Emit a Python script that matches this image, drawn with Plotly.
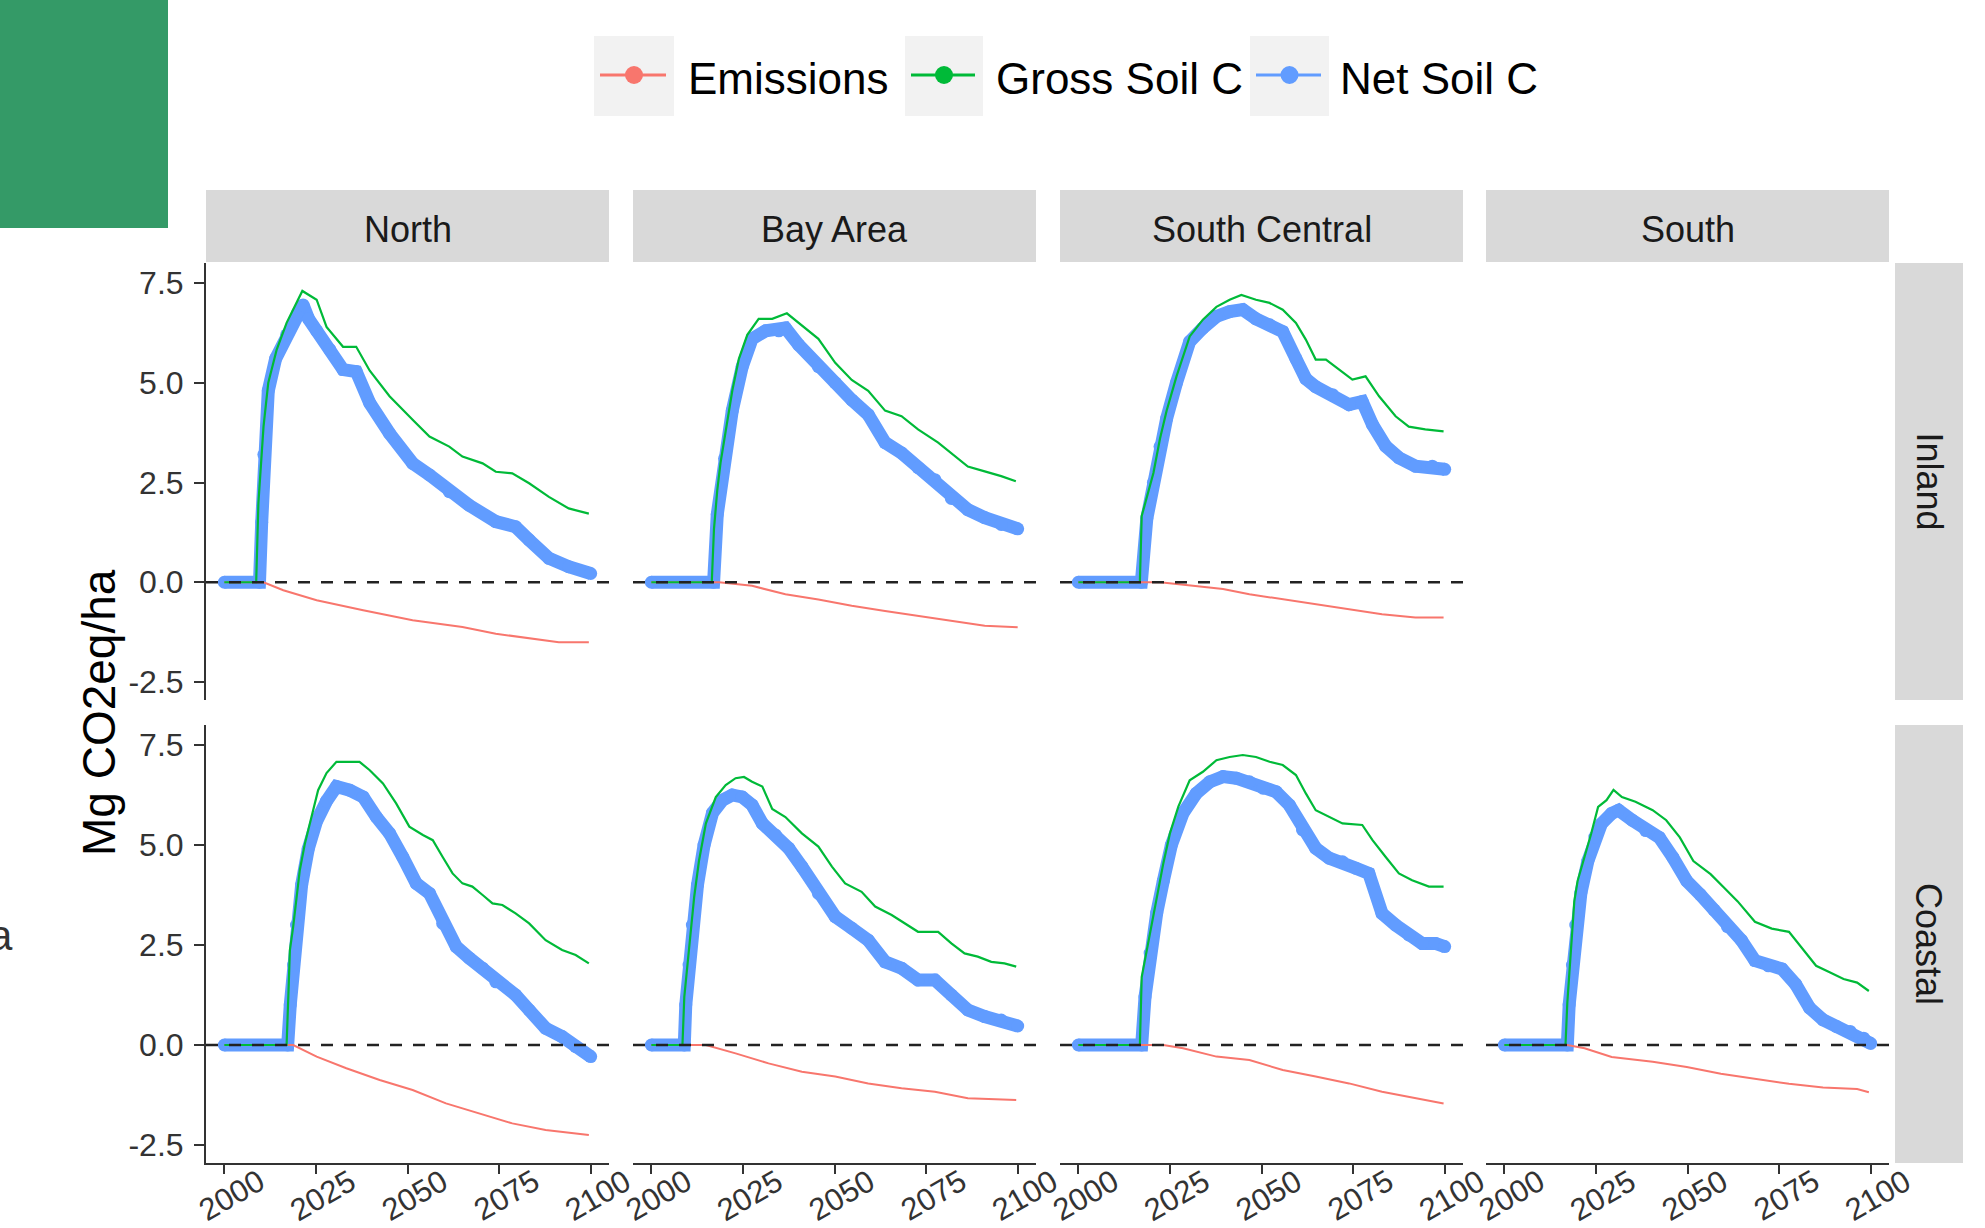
import plotly.graph_objects as go

# ---------------- data ----------------
YEAR_TICKS = [2000, 2025, 2050, 2075, 2100]
Y_TICKS = [-2.5, 0, 2.5, 5, 7.5]
Y_TICK_TEXT = ["-2.5", "0.0", "2.5", "5.0", "7.5"]
REGIONS = ["North", "Bay Area", "South Central", "South"]
ZONES = ["Inland", "Coastal"]
SERIES = ["Emissions", "Gross Soil C", "Net Soil C"]

# North / Inland
ni_emis_x = [2000, 2010.7, 2016.1, 2025.2, 2037.9, 2051.4, 2065.0, 2074.1, 2091.3, 2099.5]
ni_emis_y = [0, 0, -0.2, -0.45, -0.70, -0.95, -1.12, -1.29, -1.5, -1.5]
ni_gross_x = [2000, 2008.7, 2009.3, 2010.7, 2012.0, 2014.3, 2017.0, 2019.8, 2021.3, 2025.2, 2027.9,
              2032.4, 2036.0, 2039.7, 2045.1, 2051.4, 2056.0, 2061.4, 2065.0, 2070.5, 2074.1,
              2078.6, 2083.2, 2088.6, 2094.0, 2099.5]
ni_gross_y = [0, 0, 1.98, 3.9, 5.0, 5.83, 6.5, 7.0, 7.3, 7.08, 6.4, 5.9, 5.9, 5.3, 4.66, 4.07,
              3.65, 3.4, 3.15, 2.98, 2.77, 2.73, 2.48, 2.14, 1.85, 1.72]
ni_net_x = [2000, 2009.6, 2010.2, 2010.8, 2012.0, 2014.0, 2017.0, 2020.0, 2021.5, 2023.0, 2025.2,
            2028.8, 2032.4, 2036.0, 2039.7, 2045.1, 2051.4, 2056.0, 2061.4, 2066.8, 2074.1,
            2079.5, 2083.2, 2088.6, 2094.0, 2100]
ni_net_y = [0, 0, 1.5, 3.2, 4.8, 5.6, 6.2, 6.75, 6.95, 6.6, 6.3, 5.83, 5.33, 5.28, 4.49, 3.73,
            2.98, 2.69, 2.27, 1.93, 1.52, 1.39, 1.06, 0.6, 0.39, 0.22]

# Bay Area / Inland
bi_emis_x = [2000, 2018.5, 2027.5, 2036.6, 2045.6, 2054.7, 2063.8, 2072.8, 2081.9, 2091.0, 2100]
bi_emis_y = [0, 0, -0.09, -0.3, -0.43, -0.59, -0.72, -0.84, -0.97, -1.09, -1.13]
bi_gross_x = [2000, 2016.5, 2017.1, 2018.0, 2018.9, 2020.3, 2022.1, 2023.9, 2026.2, 2029.3, 2033.0,
              2037.0, 2040.2, 2045.6, 2050.2, 2054.7, 2059.2, 2063.8, 2068.3, 2072.8, 2078.3,
              2081.9, 2086.4, 2091.0, 2095.5, 2099.5]
bi_gross_y = [0, 0, 1.33, 2.3, 3.0, 3.8, 4.8, 5.6, 6.2, 6.6, 6.6, 6.74, 6.5, 6.1, 5.5, 5.07, 4.8,
              4.3, 4.16, 3.83, 3.5, 3.24, 2.9, 2.78, 2.66, 2.53]
bi_net_x = [2000, 2017.0, 2018.0, 2020.0, 2022.1, 2024.8, 2027.5, 2031.2, 2034.8, 2036.6, 2040.2,
            2045.6, 2050.2, 2054.7, 2059.2, 2063.8, 2068.3, 2072.8, 2077.4, 2081.9, 2086.4,
            2091.0, 2095.5, 2100]
bi_net_y = [0, 0, 1.7, 3.1, 4.3, 5.4, 6.1, 6.3, 6.3, 6.37, 5.95, 5.4, 5.0, 4.57, 4.2, 3.5, 3.24,
            2.87, 2.57, 2.1, 1.82, 1.62, 1.45, 1.34]

# South Central / Inland
sci_emis_x = [2000, 2022.3, 2031.3, 2039.5, 2046.7, 2055.8, 2064.8, 2073.9, 2082.9, 2092.0, 2099.7]
sci_emis_y = [0, 0, -0.09, -0.17, -0.3, -0.43, -0.55, -0.68, -0.8, -0.88, -0.88]
sci_gross_x = [2000, 2016.8, 2017.3, 2018.7, 2020.5, 2022.3, 2024.1, 2026.8, 2030.4, 2034.0, 2037.7,
               2041.3, 2044.5, 2048.5, 2052.2, 2055.8, 2059.4, 2062.1, 2064.8, 2067.6, 2071.2,
               2074.8, 2078.4, 2082.1, 2086.6, 2090.2, 2094.7, 2099.7]
sci_gross_y = [0, 0, 1.66, 2.16, 2.74, 3.6, 4.3, 5.16, 6.16, 6.58, 6.9, 7.08, 7.2, 7.08, 7.0, 6.83,
               6.5, 6.08, 5.58, 5.58, 5.33, 5.08, 5.16, 4.66, 4.16, 3.9, 3.83, 3.78]
sci_net_x = [2000, 2017.2, 2018.7, 2020.5, 2022.3, 2024.1, 2026.8, 2030.4, 2034.0, 2037.7, 2041.3,
             2044.9, 2048.5, 2052.2, 2055.8, 2059.4, 2062.1, 2064.8, 2069.4, 2073.9, 2077.5,
             2080.3, 2083.9, 2087.5, 2092.0, 2096.6, 2100]
sci_net_y = [0, 0, 1.6, 2.5, 3.4, 4.1, 5.0, 6.03, 6.37, 6.66, 6.78, 6.83, 6.6, 6.45, 6.28, 5.6,
             5.1, 4.9, 4.7, 4.45, 4.53, 3.95, 3.41, 3.12, 2.91, 2.91, 2.83]

# North / Coastal
nc_emis_x = [2000, 2018.8, 2025.2, 2033.3, 2042.4, 2051.4, 2060.5, 2069.6, 2078.6, 2087.7, 2099.5]
nc_emis_y = [0, 0, -0.29, -0.58, -0.875, -1.125, -1.46, -1.71, -1.96, -2.125, -2.25]
nc_gross_x = [2000, 2017.0, 2017.5, 2017.9, 2018.8, 2019.7, 2020.6, 2022.0, 2023.8, 2025.6, 2027.9,
              2030.6, 2034.2, 2036.9, 2039.7, 2043.3, 2046.9, 2050.5, 2054.2, 2056.9, 2059.6,
              2062.3, 2065.0, 2067.7, 2070.5, 2073.2, 2075.9, 2079.5, 2083.2, 2087.7, 2092.2,
              2095.9, 2099.5]
nc_gross_y = [0, 0, 1.29, 2.375, 2.96, 3.7, 4.37, 5.04, 5.7, 6.37, 6.8, 7.08, 7.08, 7.08, 6.87,
              6.54, 6.04, 5.46, 5.25, 5.12, 4.7, 4.29, 4.04, 3.96, 3.75, 3.54, 3.5, 3.29, 3.04,
              2.62, 2.375, 2.25, 2.04]
nc_net_x = [2000, 2017.3, 2018.0, 2018.9, 2019.7, 2021.1, 2022.9, 2025.2, 2027.9, 2030.6, 2034.2,
            2037.9, 2041.5, 2045.1, 2048.7, 2052.4, 2056.0, 2059.6, 2063.3, 2066.9, 2070.5,
            2074.1, 2079.5, 2083.2, 2087.7, 2092.2, 2095.9, 2100]
nc_net_y = [0, 0, 1.0, 2.0, 3.0, 4.0, 4.9, 5.6, 6.1, 6.46, 6.37, 6.2, 5.7, 5.29, 4.7, 4.04, 3.79,
            3.04, 2.46, 2.17, 1.92, 1.58, 1.25, 0.875, 0.42, 0.21, -0.04, -0.29]

# Bay Area / Coastal
bc_emis_x = [2000, 2014.9, 2023.0, 2032.0, 2041.1, 2050.2, 2059.2, 2068.3, 2077.4, 2086.4, 2099.6]
bc_emis_y = [0, 0, -0.21, -0.46, -0.67, -0.79, -0.96, -1.08, -1.17, -1.33, -1.375]
bc_gross_x = [2000, 2008.5, 2009.0, 2009.9, 2010.8, 2011.7, 2013.0, 2014.9, 2017.6, 2020.3, 2023.0,
              2025.3, 2027.5, 2030.3, 2033.0, 2036.6, 2041.1, 2045.6, 2049.3, 2052.9, 2057.4,
              2061.1, 2065.6, 2069.2, 2072.8, 2078.3, 2081.9, 2085.5, 2089.1, 2092.8, 2096.4,
              2099.6]
bc_gross_y = [0, 0, 1.2, 2.1, 2.96, 3.7, 4.6, 5.54, 6.2, 6.5, 6.67, 6.7, 6.58, 6.46, 5.9, 5.7,
              5.29, 4.96, 4.46, 4.04, 3.83, 3.46, 3.25, 3.04, 2.83, 2.83, 2.54, 2.29, 2.21, 2.08,
              2.04, 1.96]
bc_net_x = [2000, 2009.0, 2009.4, 2010.3, 2011.2, 2012.6, 2014.4, 2016.7, 2019.4, 2022.1, 2024.8,
            2027.5, 2030.3, 2033.9, 2037.5, 2041.1, 2045.6, 2050.2, 2054.7, 2059.2, 2063.8,
            2068.3, 2072.8, 2077.4, 2081.9, 2086.4, 2091.0, 2095.5, 2100]
bc_net_y = [0, 0, 1.0, 2.0, 3.0, 4.0, 5.0, 5.8, 6.12, 6.25, 6.2, 6.0, 5.54, 5.25, 4.92, 4.46,
            3.79, 3.21, 2.92, 2.62, 2.08, 1.92, 1.625, 1.625, 1.25, 0.875, 0.71, 0.625, 0.475]

# South Central / Coastal
scc_emis_x = [2000, 2023.2, 2028.6, 2037.7, 2046.7, 2055.8, 2064.8, 2073.9, 2082.9, 2092.0, 2099.7]
scc_emis_y = [0, 0, -0.08, -0.29, -0.375, -0.625, -0.79, -0.96, -1.17, -1.33, -1.46]
scc_gross_x = [2000, 2016.8, 2017.3, 2018.7, 2020.0, 2021.4, 2023.2, 2025.0, 2027.3, 2030.4, 2034.0,
               2037.7, 2041.3, 2044.9, 2048.5, 2052.2, 2055.8, 2059.4, 2062.1, 2064.8, 2068.5,
               2072.1, 2077.5, 2080.3, 2083.9, 2087.5, 2091.1, 2095.7, 2099.7]
scc_gross_y = [0, 0, 1.7, 2.375, 3.04, 3.7, 4.54, 5.29, 5.96, 6.62, 6.83, 7.12, 7.2, 7.25, 7.2,
               7.08, 7.0, 6.75, 6.29, 5.87, 5.7, 5.54, 5.5, 5.12, 4.7, 4.29, 4.12, 3.96, 3.96]
scc_net_x = [2000, 2017.3, 2018.2, 2019.6, 2021.4, 2023.2, 2025.4, 2028.6, 2032.2, 2035.9, 2039.5,
             2043.1, 2046.7, 2050.4, 2054.0, 2057.6, 2061.2, 2064.8, 2068.5, 2072.1, 2075.7,
             2079.3, 2082.9, 2086.6, 2090.2, 2093.8, 2097.5, 2100]
scc_net_y = [0, 0, 1.2, 2.3, 3.3, 4.1, 5.0, 5.8, 6.29, 6.58, 6.71, 6.67, 6.58, 6.42, 6.33, 6.0,
             5.375, 4.92, 4.67, 4.58, 4.42, 4.29, 3.29, 3.0, 2.75, 2.54, 2.54, 2.46]

# South / Coastal
sc_emis_x = [2000, 2017.2, 2021.9, 2029.3, 2040.5, 2049.8, 2059.1, 2068.4, 2077.7, 2087.0, 2096.3, 2099.5]
sc_emis_y = [0, 0, -0.08, -0.3, -0.42, -0.55, -0.72, -0.84, -0.97, -1.06, -1.1, -1.18]
sc_gross_x = [2000, 2016.7, 2017.2, 2018.1, 2019.1, 2020.0, 2021.9, 2023.7, 2025.6, 2027.9, 2029.8,
              2032.1, 2035.8, 2040.5, 2044.2, 2047.9, 2051.6, 2056.3, 2060.0, 2063.7, 2068.4,
              2073.0, 2077.7, 2081.4, 2085.1, 2088.8, 2092.6, 2096.3, 2099.5]
sc_gross_y = [0, 0, 1.06, 2.4, 3.59, 4.1, 4.69, 5.28, 5.95, 6.12, 6.38, 6.2, 6.08, 5.87, 5.62,
              5.19, 4.6, 4.27, 3.93, 3.59, 3.08, 2.91, 2.83, 2.41, 1.98, 1.82, 1.65, 1.56, 1.35]
sc_net_x = [2000, 2017.2, 2017.7, 2018.6, 2019.5, 2020.9, 2022.8, 2024.7, 2026.5, 2029.3, 2031.2,
            2034.9, 2038.6, 2042.3, 2046.0, 2049.8, 2053.5, 2057.2, 2060.9, 2064.7, 2068.4,
            2072.1, 2075.8, 2079.5, 2083.3, 2087.0, 2090.7, 2094.4, 2098.1, 2100]
sc_net_y = [0, 0, 1.0, 2.0, 3.0, 3.8, 4.6, 5.2, 5.53, 5.79, 5.87, 5.62, 5.36, 5.19, 4.69, 4.1,
            3.76, 3.38, 2.96, 2.62, 2.11, 1.98, 1.9, 1.52, 0.93, 0.63, 0.46, 0.34, 0.17, 0.04]

# ---------------- styling / layout ----------------
W, H = 1985, 1228
COLORS = {"Emissions": "#F8766D", "Gross Soil C": "#00BA38", "Net Soil C": "#619CFF"}
FONT = "Arial, Liberation Sans, sans-serif"
COL_LEFT = [206, 633, 1060, 1486]
COL_W = 403
ROW_TB = [(263, 700), (725, 1163)]


def px(x):
    return x / W


def py(y):
    return 1 - y / H


panels = [
    # (zone row, region col, emis x, emis y, gross x, gross y, net x, net y)
    (0, 0, ni_emis_x, ni_emis_y, ni_gross_x, ni_gross_y, ni_net_x, ni_net_y),
    (0, 1, bi_emis_x, bi_emis_y, bi_gross_x, bi_gross_y, bi_net_x, bi_net_y),
    (0, 2, sci_emis_x, sci_emis_y, sci_gross_x, sci_gross_y, sci_net_x, sci_net_y),
    (1, 0, nc_emis_x, nc_emis_y, nc_gross_x, nc_gross_y, nc_net_x, nc_net_y),
    (1, 1, bc_emis_x, bc_emis_y, bc_gross_x, bc_gross_y, bc_net_x, bc_net_y),
    (1, 2, scc_emis_x, scc_emis_y, scc_gross_x, scc_gross_y, scc_net_x, scc_net_y),
    (1, 3, sc_emis_x, sc_emis_y, sc_gross_x, sc_gross_y, sc_net_x, sc_net_y),
]

fig = go.Figure()
layout = dict(
    width=W, height=H, autosize=False,
    margin=dict(l=0, r=0, t=0, b=0),
    paper_bgcolor="white", plot_bgcolor="white",
    showlegend=False,
    font=dict(family=FONT, color="#333333"),
)
shapes = []
annotations = []


def note(x, y, text, size, color="#1a1a1a", angle=0, xanchor="center", yanchor="middle",
         xref="paper", xshift=0):
    annotations.append(dict(x=x, y=y, xref=xref, yref="paper", text=text, showarrow=False,
                            textangle=angle, xanchor=xanchor, yanchor=yanchor, xshift=xshift,
                            borderpad=0, font=dict(size=size, color=color, family=FONT)))


for i, (r, c, ex, ey, gx, gy, nx, ny) in enumerate(panels):
    n = i + 1
    xa = "x" if n == 1 else f"x{n}"
    ya = "y" if n == 1 else f"y{n}"
    top, bot = ROW_TB[r]
    left = COL_LEFT[c]
    bottom_row = r == 1
    first_col = c == 0
    layout["xaxis" if n == 1 else f"xaxis{n}"] = dict(
        domain=[px(left), px(left + COL_W)], anchor=ya, range=[1995, 2105],
        showgrid=False, zeroline=False, showline=bottom_row, linecolor="#333333", linewidth=2,
        ticks="outside" if bottom_row else "", tickvals=YEAR_TICKS, ticklen=9, tickwidth=2,
        tickcolor="#333333", showticklabels=False,
    )
    layout["yaxis" if n == 1 else f"yaxis{n}"] = dict(
        domain=[py(bot), py(top)], anchor=xa, range=[-2.95, 8.0],
        showgrid=False, zeroline=False, showline=first_col, linecolor="#333333", linewidth=2,
        ticks="outside" if first_col else "", tickvals=Y_TICKS, ticktext=Y_TICK_TEXT,
        ticklen=10, tickwidth=2, tickcolor="#333333", showticklabels=first_col,
        tickfont=dict(size=32, color="#333333", family=FONT), ticklabelstandoff=4,
    )
    # Net Soil C: thick band of points
    fig.add_trace(go.Scatter(x=nx, y=ny, xaxis=xa, yaxis=ya, mode="lines+markers", name="Net Soil C",
                             line=dict(color=COLORS["Net Soil C"], width=13),
                             marker=dict(color=COLORS["Net Soil C"], size=13), hoverinfo="skip"))
    fig.add_trace(go.Scatter(x=ex, y=ey, xaxis=xa, yaxis=ya, mode="lines", name="Emissions",
                             line=dict(color=COLORS["Emissions"], width=2), hoverinfo="skip"))
    fig.add_trace(go.Scatter(x=gx, y=gy, xaxis=xa, yaxis=ya, mode="lines", name="Gross Soil C",
                             line=dict(color=COLORS["Gross Soil C"], width=2.2), hoverinfo="skip"))
    # dashed zero line
    shapes.append(dict(type="line", xref=f"{xa} domain", yref=ya, x0=0, x1=1, y0=0, y1=0,
                       line=dict(color="#222222", width=2.5, dash="12px,11px"), layer="above"))
    # x tick labels (rotated, centred on the tick)
    if bottom_row:
        for t in YEAR_TICKS:
            note(t, py(1195), str(t), 31, color="#333333", angle=-30, xref=xa, xshift=7)

# top strips
for c, name in enumerate(REGIONS):
    left = COL_LEFT[c]
    shapes.append(dict(type="rect", xref="paper", yref="paper", x0=px(left), x1=px(left + COL_W),
                       y0=py(262), y1=py(190), fillcolor="#D9D9D9", line=dict(width=0), layer="below"))
    note(px(left + COL_W / 2), py(230), name, 36)
# right strips
for r, name in enumerate(ZONES):
    top, bot = ROW_TB[r]
    shapes.append(dict(type="rect", xref="paper", yref="paper", x0=px(1895), x1=px(1963),
                       y0=py(bot), y1=py(top), fillcolor="#D9D9D9", line=dict(width=0), layer="below"))
    note(px(1929), py((top + bot) / 2), name, 36, angle=90)

# y-axis title
note(px(99), py(713), "Mg CO2eq/ha", 46, color="black", angle=-90)

# legend (drawn as ggplot-style keys)
legend_boxes = [(594, 674, 687), (905, 983, 995), (1250, 1329, 1339)]
for (bx0, bx1, tx), s in zip(legend_boxes, SERIES):
    shapes.append(dict(type="rect", xref="paper", yref="paper", x0=px(bx0), x1=px(bx1),
                       y0=py(116), y1=py(36), fillcolor="#F2F2F2", line=dict(width=0)))
    shapes.append(dict(type="line", xref="paper", yref="paper", x0=px(bx0 + 6), x1=px(bx1 - 8),
                       y0=py(75), y1=py(75), line=dict(color=COLORS[s], width=3)))
    cx = (bx0 + bx1) / 2
    shapes.append(dict(type="circle", xref="paper", yref="paper", x0=px(cx - 9), x1=px(cx + 9),
                       y0=py(84), y1=py(66), fillcolor=COLORS[s], line=dict(width=0)))
    note(px(tx), py(78), s, 44, color="black", xanchor="left")

# decorations present in the source image
shapes.append(dict(type="rect", xref="paper", yref="paper", x0=0, x1=px(168), y0=py(228), y1=1,
                   fillcolor="#349A67", line=dict(width=0)))
note(px(1), py(935), "a", 42, color="#333333")

layout["shapes"] = shapes
layout["annotations"] = annotations
fig.update_layout(**layout)
fig.write_html("out.html", config={"displayModeBar": False},
               post_script="document.body.style.margin='0px';document.body.style.overflow='hidden';")
